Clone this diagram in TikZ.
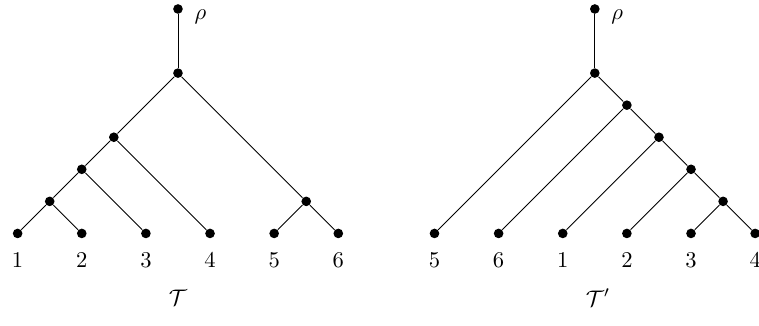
\documentclass[tikz,border=0pt]{standalone}
\usepackage{amsmath}
\usepackage{tikz}

\begin{document}
\begin{tikzpicture}[x=0.5cm, y=0.5cm,
  dot/.style={circle, fill=black, inner sep=0pt, minimum size=0.15cm},
  root/.style={dot, label={[label distance=1.5pt, yshift=-3.5pt]right:$\rho$}},
  leaf/.style={dot, label={[label distance=3pt]below:#1}},
  edge/.style={draw=black, line width=0.4pt}]
  \useasboundingbox (-0.55,-2.88) rectangle (23.12,7.28);
  % tree T
  \node[root] (lrho) at (5,7) {};
  \node[dot] (la) at (5,5) {};
  \node[dot] (lb) at (3,3) {};
  \node[dot] (lc) at (2,2) {};
  \node[dot] (ld) at (1,1) {};
  \node[dot] (le) at (9,1) {};
  \node[leaf=$1$] (l1) at (0,0) {};
  \node[leaf=$2$] (l2) at (2,0) {};
  \node[leaf=$3$] (l3) at (4,0) {};
  \node[leaf=$4$] (l4) at (6,0) {};
  \node[leaf=$5$] (l5) at (8,0) {};
  \node[leaf=$6$] (l6) at (10,0) {};
  \draw[edge] (lrho) -- (la);
  \draw[edge] (la) -- (lb) -- (lc) -- (ld) -- (l1);
  \draw[edge] (ld) -- (l2);
  \draw[edge] (lc) -- (l3);
  \draw[edge] (lb) -- (l4);
  \draw[edge] (la) -- (le) -- (l6);
  \draw[edge] (le) -- (l5);
  \node (lname) at (5,-2) {$\mathcal{T}$};
  % tree T'
  \node[root] (rrho) at (18,7) {};
  \node[dot] (ra) at (18,5) {};
  \node[dot] (rb) at (19,4) {};
  \node[dot] (rc) at (20,3) {};
  \node[dot] (rd) at (21,2) {};
  \node[dot] (re) at (22,1) {};
  \node[leaf=$5$] (r5) at (13,0) {};
  \node[leaf=$6$] (r6) at (15,0) {};
  \node[leaf=$1$] (r1) at (17,0) {};
  \node[leaf=$2$] (r2) at (19,0) {};
  \node[leaf=$3$] (r3) at (21,0) {};
  \node[leaf=$4$] (r4) at (23,0) {};
  \draw[edge] (rrho) -- (ra);
  \draw[edge] (ra) -- (rb) -- (rc) -- (rd) -- (re) -- (r4);
  \draw[edge] (ra) -- (r5);
  \draw[edge] (rb) -- (r6);
  \draw[edge] (rc) -- (r1);
  \draw[edge] (rd) -- (r2);
  \draw[edge] (re) -- (r3);
  \node (rname) at (18.1,-2) {$\mathcal{T}'$};
\end{tikzpicture}
\end{document}
